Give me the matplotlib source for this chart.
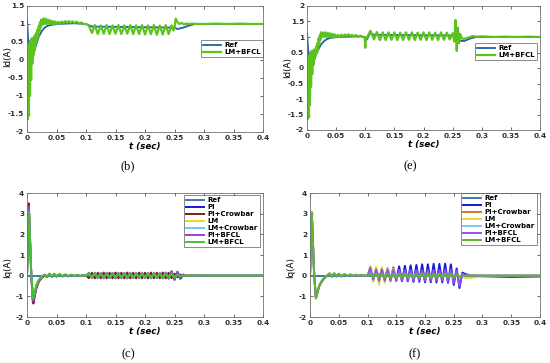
import matplotlib
matplotlib.use("Agg")
import matplotlib.pyplot as plt

plt.rcParams['font.family'] = ['DejaVu Sans']

# ---------------- shared ticks ----------------
x_ticks = [0, 0.05, 0.1, 0.15, 0.2, 0.25, 0.3, 0.35, 0.4]
x_tick_labels = ['0', '0.05', '0.1', '0.15', '0.2', '0.25', '0.3', '0.35', '0.4']
yb_ticks = [-2, -1.5, -1, -0.5, 0, 0.5, 1, 1.5]
yb_labels = ['-2', '-1.5', '-1', '-0.5', '0', '0.5', '1', '1.5']
ye_ticks = [-2, -1.5, -1, -0.5, 0, 0.5, 1, 1.5, 2]
ye_labels = ['-2', '-1.5', '-1', '-0.5', '0', '0.5', '1', '1.5', '2']
yq_ticks = [-2, -1, 0, 1, 2, 3, 4]
yq_labels = ['-2', '-1', '0', '1', '2', '3', '4']

# ---------------- panel (b): Id ----------------
b_ref_t = [0, 0.002, 0.004, 0.007, 0.010, 0.015, 0.020, 0.025, 0.030, 0.035, 0.040,
           0.050, 0.080, 0.100, 0.110, 0.250, 0.255, 0.265, 0.275, 0.285, 0.300, 0.400]
b_ref_y = [1.15, 0.55, 0.1, -0.1, 0.08, 0.4, 0.65, 0.8, 0.9, 0.95, 0.97,
           1.0, 1.02, 1.0, 0.93, 0.9, 0.86, 0.9, 0.96, 1.0, 1.0, 1.0]

b_lm_t = [0.000, 0.001, 0.002, 0.003, 0.004, 0.005, 0.006, 0.007, 0.008, 0.009, 0.010,
          0.011, 0.012, 0.013, 0.014, 0.015, 0.016, 0.017, 0.018, 0.019, 0.020, 0.021,
          0.022, 0.023, 0.024,
          0.026, 0.028, 0.030, 0.032, 0.034, 0.036, 0.038, 0.040, 0.042, 0.044, 0.046,
          0.048, 0.050,
          0.053, 0.056, 0.059, 0.062, 0.065, 0.068, 0.071, 0.074, 0.077, 0.080,
          0.084, 0.088, 0.092, 0.096, 0.100,
          0.105, 0.110, 0.115, 0.120, 0.125, 0.130, 0.135, 0.140, 0.145, 0.150, 0.155,
          0.160, 0.165, 0.170, 0.175, 0.180, 0.185, 0.190, 0.195, 0.200, 0.205, 0.210,
          0.215, 0.220, 0.225, 0.230, 0.235, 0.240, 0.245,
          0.248, 0.250, 0.252, 0.255, 0.258, 0.262, 0.266, 0.270, 0.275, 0.280, 0.290,
          0.300, 0.320, 0.340, 0.360, 0.380, 0.400]
b_lm_y = [0.2, -1.65, 0.3, -1.55, 0.45, -1.0, 0.55, -0.55, 0.6, -0.1, 0.6,
          0.15, 0.65, 0.3, 0.7, 0.45, 0.75, 0.55, 0.85, 0.65, 0.95, 0.8,
          1.05, 0.9, 1.12,
          0.98, 1.16, 1.0, 1.15, 1.0, 1.12, 1.0, 1.1, 0.99, 1.08, 0.99,
          1.07, 1.0,
          1.06, 1.01, 1.07, 1.02, 1.08, 1.03, 1.08, 1.03, 1.07, 1.03,
          1.06, 1.02, 1.04, 1.0, 1.0,
          0.95, 0.75, 0.97, 0.72, 0.96, 0.73, 0.97, 0.72, 0.96, 0.73, 0.97,
          0.72, 0.96, 0.73, 0.97, 0.72, 0.96, 0.72, 0.97, 0.71, 0.96, 0.72,
          0.97, 0.70, 0.96, 0.71, 0.97, 0.72, 0.96,
          0.82, 0.9, 1.15, 1.05, 1.0, 1.03, 0.99, 1.01, 1.0, 1.01, 1.0,
          1.0, 1.01, 1.0, 1.01, 1.0, 1.0]

# ---------------- panel (e): Id ----------------
e_ref_t = [0, 0.002, 0.004, 0.007, 0.010, 0.015, 0.020, 0.025, 0.030, 0.035, 0.040,
           0.050, 0.090, 0.100, 0.103, 0.108, 0.115, 0.250, 0.256, 0.262, 0.270,
           0.280, 0.290, 0.400]
e_ref_y = [1.15, 0.6, 0.15, -0.1, 0.1, 0.4, 0.62, 0.78, 0.88, 0.94, 0.97,
           1.0, 1.02, 1.0, 0.92, 1.12, 1.07, 1.05, 1.0, 0.88, 0.87,
           0.95, 1.0, 1.0]

e_lm_t = [0.000, 0.001, 0.002, 0.003, 0.004, 0.005, 0.006, 0.007, 0.008, 0.009, 0.010,
          0.011, 0.012, 0.013, 0.014, 0.015, 0.016, 0.017, 0.018, 0.019, 0.020, 0.021,
          0.022, 0.023, 0.024,
          0.026, 0.028, 0.030, 0.032, 0.034, 0.036, 0.038, 0.040, 0.042, 0.044, 0.046,
          0.048, 0.050,
          0.053, 0.056, 0.059, 0.062, 0.065, 0.068, 0.071, 0.074, 0.077, 0.080,
          0.084, 0.088, 0.092, 0.096, 0.099, 0.100, 0.101, 0.103, 0.106, 0.109,
          0.115, 0.120, 0.125, 0.130, 0.135, 0.140, 0.145, 0.150, 0.155, 0.160, 0.165,
          0.170, 0.175, 0.180, 0.185, 0.190, 0.195, 0.200, 0.205, 0.210, 0.215, 0.220,
          0.225, 0.230, 0.235, 0.240, 0.245,
          0.250, 0.253, 0.255, 0.257, 0.259, 0.261, 0.263, 0.266, 0.270, 0.275, 0.280,
          0.285, 0.290, 0.300, 0.320, 0.340, 0.360, 0.380, 0.400]
e_lm_y = [0.3, -1.65, 0.2, -1.6, 0.4, -1.2, 0.5, -0.6, 0.55, -0.2, 0.55,
          0.1, 0.6, 0.3, 0.55, 0.4, 0.7, 0.5, 0.8, 0.6, 0.95, 0.75,
          1.05, 0.9, 1.15,
          1.0, 1.15, 1.0, 1.15, 1.0, 1.13, 1.0, 1.12, 1.0, 1.1, 0.98,
          1.08, 0.99,
          1.07, 1.0, 1.08, 1.02, 1.08, 1.03, 1.09, 1.03, 1.07, 1.02,
          1.06, 1.01, 1.04, 1.0, 1.0, 0.65, 0.95, 0.98, 1.1, 1.2,
          0.92, 1.16, 0.9, 1.15, 0.9, 1.15, 0.91, 1.15, 0.9, 1.14, 0.9,
          1.15, 0.91, 1.15, 0.9, 1.14, 0.91, 1.15, 0.9, 1.15, 0.91, 1.14,
          0.9, 1.15, 0.91, 1.14, 0.92,
          1.12, 0.85, 1.55, 0.55, 1.3, 0.8, 1.1, 0.95, 0.94, 0.97, 1.0,
          1.03, 1.01, 1.02, 1.0, 1.01, 1.0, 1.01, 1.0]

# ---------------- panels (c) and (f): Iq ----------------
q_names = ['Ref', 'PI', 'PI+Crowbar', 'LM', 'LM+Crowbar', 'PI+BFCL', 'LM+BFCL']
q_ref_t = [0, 0.4]
q_ref_y = [0, 0]

q_t = [0.000, 0.002, 0.003, 0.004, 0.007, 0.010, 0.011, 0.013, 0.016, 0.020, 0.025, 0.030,
       0.034, 0.038, 0.042, 0.046, 0.050, 0.055, 0.060, 0.065, 0.070, 0.075, 0.080, 0.085,
       0.090, 0.095, 0.100,
       0.105, 0.110, 0.115, 0.120, 0.125, 0.130, 0.135, 0.140, 0.145, 0.150, 0.155, 0.160,
       0.165, 0.170, 0.175, 0.180, 0.185, 0.190, 0.195, 0.200, 0.205, 0.210, 0.215, 0.220,
       0.225, 0.230, 0.235, 0.240, 0.245, 0.250,
       0.255, 0.260, 0.265, 0.270, 0.280, 0.300, 0.350, 0.400]

c_pi = [0, 2.4, 3.4, 2.7, 0.2, -1.25, -1.3, -0.95, -0.55, -0.28, -0.08, 0.02,
        -0.06, 0.08, -0.05, 0.07, -0.04, 0.06, -0.03, 0.05, -0.03, 0.04, -0.02, 0.03,
        -0.02, 0.02, 0.0,
        0.13, -0.12, 0.14, -0.12, 0.13, -0.13, 0.14, -0.12, 0.13, -0.13, 0.14, -0.12,
        0.13, -0.13, 0.14, -0.12, 0.13, -0.13, 0.14, -0.12, 0.13, -0.13, 0.14, -0.12,
        0.13, -0.13, 0.15, -0.14, 0.2, -0.2,
        0.18, -0.15, 0.06, -0.02, 0.01, 0.0, 0.0, 0.0]
c_pic = [0, 2.5, 3.5, 2.8, 0.15, -1.3, -1.35, -1.0, -0.6, -0.3, -0.1, 0.0,
         -0.05, 0.07, -0.05, 0.06, -0.04, 0.05, -0.03, 0.04, -0.03, 0.03, -0.02, 0.03,
         -0.02, 0.02, 0.0,
         -0.12, 0.14, -0.13, 0.14, -0.13, 0.15, -0.13, 0.14, -0.13, 0.15, -0.13, 0.14,
         -0.13, 0.15, -0.13, 0.14, -0.13, 0.15, -0.13, 0.14, -0.13, 0.15, -0.13, 0.14,
         -0.13, 0.15, -0.13, 0.14, -0.12, 0.1,
         -0.08, 0.05, -0.02, 0.0, 0.0, 0.0, 0.0, 0.0]
c_lm = [0, 2.3, 3.3, 2.6, 0.3, -1.2, -1.15, -0.85, -0.5, -0.25, -0.05, 0.05,
        -0.04, 0.08, -0.04, 0.07, -0.03, 0.06, -0.03, 0.05, -0.02, 0.04, -0.02, 0.03,
        -0.01, 0.02, 0.0,
        0.1, -0.1, 0.12, -0.11, 0.12, -0.11, 0.12, -0.11, 0.12, -0.11, 0.12, -0.11,
        0.12, -0.11, 0.12, -0.11, 0.12, -0.11, 0.12, -0.11, 0.12, -0.11, 0.12, -0.11,
        0.12, -0.11, 0.12, -0.11, 0.12, -0.1,
        0.06, -0.04, 0.02, 0.0, 0.0, 0.0, 0.0, 0.0]
c_lmc = [0, 2.2, 3.2, 2.5, 0.3, -1.1, -1.1, -0.8, -0.45, -0.2, -0.03, 0.05,
         -0.04, 0.07, -0.04, 0.06, -0.03, 0.05, -0.03, 0.04, -0.02, 0.04, -0.02, 0.03,
         -0.01, 0.02, 0.0,
         0.1, -0.09, 0.11, -0.1, 0.11, -0.1, 0.11, -0.1, 0.11, -0.1, 0.11, -0.1,
         0.11, -0.1, 0.11, -0.1, 0.11, -0.1, 0.11, -0.1, 0.11, -0.1, 0.11, -0.1,
         0.11, -0.1, 0.11, -0.1, 0.11, -0.1,
         0.05, -0.03, 0.02, 0.0, 0.0, 0.0, 0.0, 0.0]
c_pib = [0, 2.3, 3.3, 2.6, 0.25, -1.2, -1.2, -0.9, -0.5, -0.25, -0.05, 0.03,
         -0.05, 0.07, -0.04, 0.06, -0.03, 0.05, -0.03, 0.04, -0.02, 0.03, -0.02, 0.02,
         -0.01, 0.02, 0.0,
         0.11, -0.1, 0.11, -0.11, 0.11, -0.11, 0.11, -0.11, 0.11, -0.11, 0.11, -0.11,
         0.11, -0.11, 0.11, -0.11, 0.11, -0.11, 0.11, -0.11, 0.11, -0.11, 0.11, -0.11,
         0.11, -0.11, 0.12, -0.12, 0.22, -0.2,
         0.2, -0.1, 0.04, 0.0, 0.0, 0.0, 0.0, 0.0]
c_lmb = [0, 2.2, 3.1, 2.5, 0.3, -1.1, -1.05, -0.8, -0.45, -0.2, -0.05, 0.05,
         -0.05, 0.1, -0.05, 0.1, -0.03, 0.08, -0.02, 0.06, -0.02, 0.05, -0.02, 0.04,
         -0.02, 0.03, 0.0,
         0.12, -0.08, 0.1, -0.1, 0.1, -0.1, 0.1, -0.1, 0.1, -0.1, 0.1, -0.1,
         0.1, -0.1, 0.1, -0.1, 0.1, -0.1, 0.1, -0.1, 0.1, -0.1, 0.1, -0.1,
         0.1, -0.1, 0.1, -0.1, 0.12, -0.1,
         0.05, -0.03, 0.02, 0.0, 0.01, 0.0, 0.0, 0.0]

f_pi = [0, 2.0, 3.0, 2.4, 0.2, -1.0, -1.0, -0.8, -0.5, -0.3, -0.12, 0.0,
        0.1, -0.05, 0.1, -0.04, 0.08, -0.03, 0.06, -0.02, 0.05, -0.02, 0.04, -0.02,
        0.03, -0.01, 0.0,
        0.25, -0.1, 0.3, -0.15, 0.32, -0.2, 0.35, -0.22, 0.4, -0.25, 0.45, -0.27,
        0.48, -0.28, 0.5, -0.3, 0.52, -0.3, 0.55, -0.32, 0.55, -0.32, 0.57, -0.33,
        0.57, -0.33, 0.58, -0.35, 0.55, -0.45,
        0.35, -0.6, 0.15, 0.08, 0.0, -0.03, -0.06, -0.04]
f_pic = [0, 2.1, 3.05, 2.4, 0.2, -1.05, -1.02, -0.8, -0.5, -0.3, -0.1, 0.0,
         0.08, -0.04, 0.08, -0.03, 0.06, -0.03, 0.05, -0.02, 0.04, -0.02, 0.03, -0.01,
         0.02, -0.01, 0.0,
         0.2, -0.15, 0.2, -0.18, 0.2, -0.18, 0.2, -0.18, 0.2, -0.18, 0.2, -0.18,
         0.2, -0.18, 0.2, -0.18, 0.2, -0.18, 0.2, -0.18, 0.2, -0.18, 0.2, -0.18,
         0.2, -0.18, 0.2, -0.18, 0.2, -0.2,
         0.15, -0.1, 0.05, 0.02, 0.0, 0.0, 0.0, 0.0]
f_lm = [0, 2.0, 3.0, 2.4, 0.25, -1.05, -1.0, -0.78, -0.48, -0.28, -0.1, 0.02,
        0.1, -0.04, 0.1, -0.03, 0.08, -0.03, 0.06, -0.02, 0.05, -0.02, 0.04, -0.01,
        0.03, -0.01, 0.0,
        0.45, -0.3, 0.45, -0.45, 0.42, -0.35, 0.4, -0.3, 0.35, -0.2, 0.15, -0.12,
        0.1, -0.1, 0.08, -0.08, 0.08, -0.08, 0.08, -0.08, 0.08, -0.08, 0.08, -0.08,
        0.08, -0.08, 0.1, -0.1, 0.1, -0.1,
        0.05, -0.05, -0.02, -0.1, -0.1, -0.03, 0.0, 0.0]
f_lmc = [0, 2.1, 3.1, 2.5, 0.25, -1.05, -1.02, -0.78, -0.48, -0.27, -0.1, 0.02,
         0.09, -0.04, 0.09, -0.03, 0.07, -0.03, 0.06, -0.02, 0.05, -0.02, 0.04, -0.01,
         0.03, -0.01, 0.0,
         0.15, -0.12, 0.14, -0.12, 0.14, -0.12, 0.14, -0.12, 0.14, -0.12, 0.14, -0.12,
         0.14, -0.12, 0.14, -0.12, 0.14, -0.12, 0.14, -0.12, 0.14, -0.12, 0.14, -0.12,
         0.14, -0.12, 0.14, -0.12, 0.14, -0.12,
         0.1, -0.05, 0.02, 0.0, 0.0, 0.0, 0.0, 0.0]
f_pib = [0, 2.0, 3.0, 2.4, 0.2, -1.05, -1.0, -0.8, -0.5, -0.3, -0.1, 0.0,
         0.09, -0.04, 0.08, -0.03, 0.07, -0.03, 0.05, -0.02, 0.04, -0.02, 0.03, -0.01,
         0.02, -0.01, 0.0,
         0.4, -0.2, 0.3, -0.25, 0.3, -0.25, 0.3, -0.25, 0.28, -0.25, 0.28, -0.25,
         0.28, -0.25, 0.28, -0.25, 0.28, -0.25, 0.28, -0.25, 0.28, -0.25, 0.28, -0.25,
         0.28, -0.25, 0.3, -0.3, 0.3, -0.35,
         0.25, -0.5, 0.1, 0.02, 0.0, 0.0, 0.0, 0.0]
f_lmb = [0, 2.0, 3.05, 2.4, 0.2, -1.1, -1.05, -0.8, -0.5, -0.28, -0.1, 0.0,
         0.12, -0.03, 0.12, -0.02, 0.1, -0.02, 0.08, -0.01, 0.06, -0.01, 0.05, 0.0,
         0.04, 0.0, 0.0,
         0.1, -0.08, 0.1, -0.1, 0.1, -0.1, 0.1, -0.1, 0.1, -0.1, 0.1, -0.1,
         0.1, -0.1, 0.1, -0.1, 0.1, -0.1, 0.1, -0.1, 0.1, -0.1, 0.1, -0.1,
         0.1, -0.1, 0.1, -0.1, 0.1, -0.1,
         0.05, -0.04, 0.02, -0.02, 0.01, 0.0, 0.0, 0.0]

c_series = [c_pi, c_pic, c_lm, c_lmc, c_pib, c_lmb]
f_series = [f_pi, f_pic, f_lm, f_lmc, f_pib, f_lmb]

# ---------------- styles ----------------
id_colors = ['#1f5fa8', '#5cc21c']
c_colors = ['#2c6db3', '#1414e0', '#7a1f1f', '#e8e010', '#70c8f0', '#9a40e0', '#44c030']
f_colors = ['#2c6db3', '#1818d8', '#d07a20', '#e0e020', '#80c8e8', '#9050f0', '#5cb830']

W, H = 550.0, 363.0
fig = plt.figure(figsize=(5.5, 3.63), dpi=100)


def make_ax(left, top, right, bottom):
    return fig.add_axes([left / W, 1 - bottom / H, (right - left) / W, (bottom - top) / H])


def style(ax, ylim, yt, yl, ylabel, lab_y, lab_dx):
    ax.set_xlim(0, 0.4)
    ax.set_ylim(*ylim)
    ax.set_xticks(x_ticks)
    ax.set_xticklabels(x_tick_labels, fontsize=5.3, fontweight='bold')
    ax.set_yticks(yt)
    ax.set_yticklabels(yl, fontsize=5.3, fontweight='bold')
    ax.tick_params(direction='in', length=2, width=0.5, pad=2, top=True, right=True,
                   colors='#303030')
    for s in ax.spines.values():
        s.set_linewidth(0.6)
        s.set_color('#707070')
    ax.set_xlabel('t (sec)', fontsize=6.3, fontstyle='italic', fontweight='bold', labelpad=1)
    ax.set_ylabel(ylabel, fontsize=6.3, labelpad=1)
    ax.yaxis.set_label_coords(lab_dx, lab_y)


def leg(ax, x_right, y_top):
    lg = ax.legend(loc='upper right', bbox_to_anchor=(x_right / W, 1 - y_top / H),
                   bbox_transform=fig.transFigure, fontsize=5, prop={'weight': 'bold', 'size': 5},
                   frameon=True, fancybox=False, handlelength=2.6, handletextpad=0.5,
                   borderpad=0.3, labelspacing=0.15, borderaxespad=0)
    lg.get_frame().set_edgecolor('#333333')
    lg.get_frame().set_linewidth(0.5)


# (b)
ax_b = make_ax(27, 6, 263, 132)
ax_b.plot(b_ref_t, b_ref_y, color=id_colors[0], lw=1.3, label='Ref')
ax_b.plot(b_lm_t, b_lm_y, color=id_colors[1], lw=1.6, label='LM+BFCL')
style(ax_b, (-2, 1.5), yb_ticks, yb_labels, 'Id(A)', 0.6, -0.065)
leg(ax_b, 263, 40)

# (e)
ax_e = make_ax(307, 6, 540, 130)
ax_e.plot(e_ref_t, e_ref_y, color=id_colors[0], lw=1.3, label='Ref')
ax_e.plot(e_lm_t, e_lm_y, color=id_colors[1], lw=1.6, label='LM+BFCL')
style(ax_e, (-2, 2), ye_ticks, ye_labels, 'Id(A)', 0.5, -0.065)
leg(ax_e, 537, 43)

# (c)
ax_c = make_ax(27, 193, 263, 317)
ax_c.plot(q_ref_t, q_ref_y, color=c_colors[0], lw=1.3, label=q_names[0])
for name, col, ys in zip(q_names[1:], c_colors[1:], c_series):
    ax_c.plot(q_t, ys, color=col, lw=1.4, label=name)
style(ax_c, (-2, 4), yq_ticks, yq_labels, 'Iq(A)', 0.4, -0.065)
leg(ax_c, 260, 195)

# (f)
ax_f = make_ax(310, 193, 540, 317)
ax_f.plot(q_ref_t, q_ref_y, color=f_colors[0], lw=1.3, label=q_names[0])
for name, col, ys in zip(q_names[1:], f_colors[1:], f_series):
    ax_f.plot(q_t, ys, color=col, lw=1.4, label=name)
style(ax_f, (-2, 4), yq_ticks, yq_labels, 'Iq(A)', 0.4, -0.065)
leg(ax_f, 537, 193)

# captions
cap_font = dict(fontsize=9, family='Liberation Serif', ha='center', va='center')
fig.text(128 / W, 1 - 166 / H, '(b)', **cap_font)
fig.text(410 / W, 1 - 166 / H, '(e)', **cap_font)
fig.text(128 / W, 1 - 354 / H, '(c)', **cap_font)
fig.text(415 / W, 1 - 354 / H, '(f)', **cap_font)

fig.savefig('out.png', dpi=100)
